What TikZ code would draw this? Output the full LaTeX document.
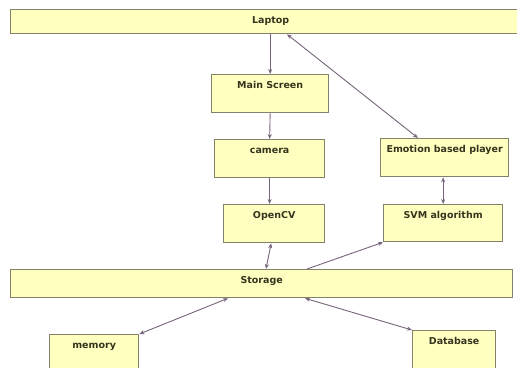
\documentclass[tikz,border=0pt]{standalone}
\usepackage{fontspec}
\setmainfont{DejaVu Sans}
\usetikzlibrary{arrows.meta}
\definecolor{boxfill}{HTML}{FFFFC0}
\definecolor{boxline}{HTML}{84826A}
\definecolor{linkcol}{HTML}{76647A}
\definecolor{textcol}{HTML}{35351F}
\begin{document}
\begin{tikzpicture}[x=1pt,y=-1pt,
  every node/.style={draw=boxline,fill=boxfill,line width=1.3pt,
    anchor=north west,inner xsep=0pt,inner ysep=5pt,text height=9pt,
    font=\bfseries\fontsize{9.5}{11}\selectfont,text=textcol},
  link/.style={draw=linkcol,line width=0.9pt,-{Stealth[length=5pt,width=4pt]}},
  both/.style={link,{Stealth[length=5pt,width=4pt]}-{Stealth[length=5pt,width=4pt]}}]
\useasboundingbox (0,0) rectangle (517,367);
\node[minimum width=520pt,text depth=5pt] (laptop) at (10,9) {Laptop};
\node[minimum width=117pt,text depth=19pt] (mainscreen) at (211,74) {Main Screen};
\node[minimum width=110pt,text depth=19pt] (camera) at (214,139) {camera};
\node[minimum width=101pt,text depth=19pt] (opencv) at (223,204) {OpenCV};
\node[minimum width=128pt,text depth=19pt] (emotion) at (380,138) {Emotion based player};
\node[minimum width=119pt,text depth=18pt] (svm) at (383,204) {SVM algorithm};
\node[minimum width=502pt,text depth=9pt] (storage) at (10,269) {Storage};
\node[minimum width=89pt,text depth=24pt] (memory) at (49,334) {memory};
\node[minimum width=83pt,text depth=24pt] (database) at (412,330) {Database};
% links
\draw[link] (mainscreen.north |- laptop.south) -- (mainscreen.north);
\draw[link] (mainscreen.south) -- (camera.north);
\draw[link] (camera.south) -- (camera.south |- opencv.north);
\draw[both] ([xshift=-3pt]opencv.south) -- ([xshift=256pt]storage.north west);
\draw[both] ([xshift=277pt]laptop.south west) -- ([xshift=38pt]emotion.north west);
\draw[link] ([xshift=297pt]storage.north west) -- (svm.south west);
\draw[both] (svm.north) -- (svm.north |- emotion.south);
\draw[both] ([xshift=218pt]storage.south west) -- (memory.north east);
\draw[both] ([xshift=295pt]storage.south west) -- (database.north west);
\end{tikzpicture}
\end{document}
